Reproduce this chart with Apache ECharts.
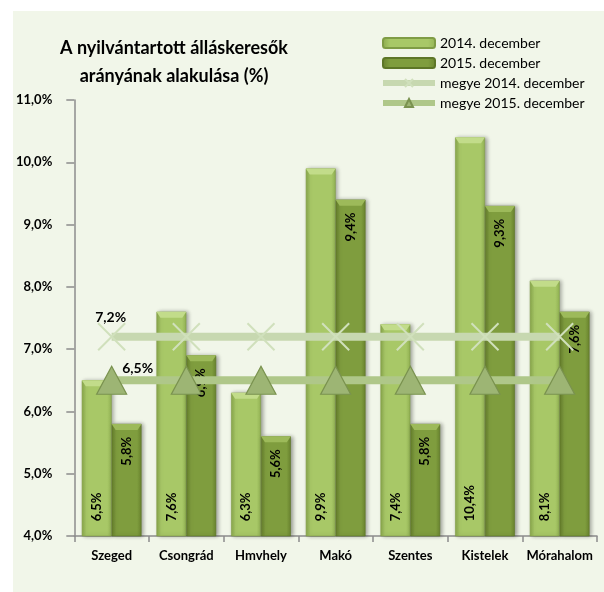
<!DOCTYPE html>
<html>
<head>
<meta charset="utf-8">
<script src="https://cdn.jsdelivr.net/npm/echarts@6/dist/echarts.min.js"></script>
<style>
  html, body { margin: 0; padding: 0; background: #fff; }
  #chart { position: absolute; left: 13px; top: 11px; width: 591px; height: 581px; background: #f1f6e9; }
</style>
</head>
<body>
<div id="chart"></div>
<script>
// adatok
const telepulesek = ['Szeged', 'Csongrád', 'Hmvhely', 'Makó', 'Szentes', 'Kistelek', 'Mórahalom'];
const dec2014 = [6.5, 7.6, 6.3, 9.9, 7.4, 10.4, 8.1];
const dec2015 = [5.8, 6.9, 5.6, 9.4, 5.8, 9.3, 7.6];
const megye2014 = [7.2, 7.2, 7.2, 7.2, 7.2, 7.2, 7.2];
const megye2015 = [6.5, 6.5, 6.5, 6.5, 6.5, 6.5, 6.5];
const yMin = 4, yMax = 11, yStep = 1;

const font = 'Lato, "Open Sans", sans-serif';
const pct = v => v.toFixed(1).replace('.', ',') + '%';
const catGap = 0.2;

function hGrad(a, b, c) {
  return new echarts.graphic.LinearGradient(0, 0, 1, 0, [
    { offset: 0, color: a },
    { offset: 0.15, color: b },
    { offset: 0.85, color: b },
    { offset: 1, color: c }
  ]);
}

// oszlop tetején a világosabb fazetta
function bevel(side, color) {
  return function (params, api) {
    const p = api.coord([api.value(0), api.value(1)]);
    const band = api.size([1, 0])[0];
    const w = band * (1 - catGap) / 2;
    const x0 = side === 0 ? p[0] - w : p[0];
    return {
      type: 'polygon',
      shape: { points: [[x0, p[1]], [x0 + w, p[1]], [x0 + w - 4, p[1] + 6], [x0 + 4, p[1] + 6]] },
      style: { fill: color },
      silent: true
    };
  };
}

const chart = echarts.init(document.getElementById('chart'));
const option = {
  animation: false,
  textStyle: { fontFamily: font },
  title: {
    text: 'A nyilvántartott álláskeresők\narányának alakulása (%)',
    left: 156,
    top: 18,
    textAlign: 'center',
    textStyle: { fontSize: 18, fontWeight: 'bold', color: '#000', lineHeight: 28, fontFamily: font }
  },
  legend: {
    orient: 'vertical',
    left: 362,
    top: 20,
    itemWidth: 52,
    itemHeight: 10,
    itemGap: 6,
    lineStyle: { width: 6 },
    textStyle: { fontSize: 14, color: '#000', fontFamily: font },
    data: ['2014. december', '2015. december', 'megye 2014. december', 'megye 2015. december']
  },
  grid: { left: 60, right: 7, top: 89, bottom: 56, containLabel: false },
  xAxis: {
    type: 'category',
    data: telepulesek,
    axisLine: { lineStyle: { color: '#8c8c8c', width: 1.5 } },
    axisTick: { show: true, length: 6, lineStyle: { color: '#8c8c8c', width: 1.5 } },
    axisLabel: { interval: 0, fontSize: 13, fontWeight: 'bold', color: '#000', margin: 13 }
  },
  yAxis: {
    type: 'value',
    min: yMin,
    max: yMax,
    interval: yStep,
    splitLine: { show: false },
    axisLine: { show: true, lineStyle: { color: '#8c8c8c', width: 1.5 } },
    axisTick: { show: true, length: 8, lineStyle: { color: '#8c8c8c', width: 1.5 } },
    axisLabel: { fontSize: 13, fontWeight: 'bold', color: '#000', margin: 22, formatter: v => pct(v) }
  },
  series: [
    {
      name: '2014. december',
      type: 'bar',
      data: dec2014,
      barGap: '0%',
      barCategoryGap: (catGap * 100) + '%',
      itemStyle: {
        color: hGrad('#8aa94c', '#a8c867', '#94b455'),
        borderColor: '#7f9c45',
        borderWidth: 0.6,
        shadowColor: 'rgba(0,0,0,0.35)',
        shadowBlur: 4,
        shadowOffsetX: 2
      },
      label: {
        show: true,
        position: 'insideBottom',
        rotate: 90,
        align: 'left',
        verticalAlign: 'middle',
        distance: 15,
        fontSize: 13,
        fontWeight: 'bold',
        color: '#000',
        formatter: p => pct(p.value)
      },
      z: 2
    },
    {
      name: '2015. december',
      type: 'bar',
      data: dec2015,
      itemStyle: {
        color: hGrad('#667f2c', '#7f9d3e', '#6a852f'),
        borderColor: '#5d7627',
        borderWidth: 0.6,
        shadowColor: 'rgba(0,0,0,0.35)',
        shadowBlur: 4,
        shadowOffsetX: 2
      },
      label: {
        show: true,
        position: 'insideTop',
        rotate: 90,
        align: 'right',
        verticalAlign: 'middle',
        distance: 13,
        fontSize: 13,
        fontWeight: 'bold',
        color: '#000',
        formatter: p => pct(p.value)
      },
      z: 2
    },
    {
      type: 'custom',
      data: dec2014.map((v, i) => [i, v]),
      renderItem: bevel(0, '#c2dc8a'),
      z: 3
    },
    {
      type: 'custom',
      data: dec2015.map((v, i) => [i, v]),
      renderItem: bevel(1, '#9dba5a'),
      z: 3
    },
    {
      name: 'megye 2014. december',
      type: 'line',
      data: megye2014,
      symbol: 'path://M0,0 L10,10 M10,0 L0,10',
      symbolSize: 27,
      lineStyle: { color: '#c7d8b0', width: 8 },
      itemStyle: { color: 'rgba(0,0,0,0)', borderColor: '#d0e0bc', borderWidth: 2 },
      label: {
        show: true,
        position: 'inside',
        offset: [-1, -19],
        fontSize: 14,
        fontWeight: 'bold',
        color: '#000',
        formatter: p => (p.dataIndex === 0 ? pct(p.value) : '')
      },
      z: 5
    },
    {
      name: 'megye 2015. december',
      type: 'line',
      data: megye2015,
      symbol: 'triangle',
      symbolSize: [30, 28],
      lineStyle: { color: '#afc789', width: 8 },
      itemStyle: { color: '#9db574', borderColor: '#7a924f', borderWidth: 1.2 },
      label: {
        show: true,
        position: 'inside',
        offset: [26, -12],
        fontSize: 14,
        fontWeight: 'bold',
        color: '#000',
        formatter: p => (p.dataIndex === 0 ? pct(p.value) : '')
      },
      z: 6
    }
  ]
};
chart.setOption(option);
</script>
</body>
</html>
